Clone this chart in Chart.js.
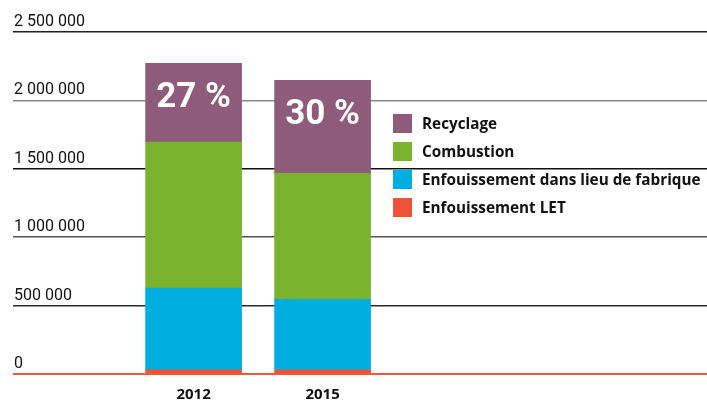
<!DOCTYPE html>
<html>
<head>
<meta charset="utf-8">
<script src="https://cdn.jsdelivr.net/npm/chart.js@4.4.1/dist/chart.umd.min.js"></script>
<style>
  html, body { margin: 0; padding: 0; background: #ffffff; }
  #wrap { position: relative; width: 707px; height: 401px; }
</style>
</head>
<body>
<div id="wrap"><canvas id="c" width="707" height="401"></canvas></div>
<script>
// ---- data ----
const categories = ['2012', '2015'];
const seriesNames = ['Enfouissement LET', 'Enfouissement dans lieu de fabrique', 'Combustion', 'Recyclage'];
const enfouissementLET = [30000, 30000];
const enfouissementLieu = [598000, 515000];
const combustion = [1068000, 921000];
const recyclage = [575000, 681000];
const recyclagePct = ['27 %', '30 %'];
const yTicks = [0, 500000, 1000000, 1500000, 2000000, 2500000];

const colors = ['#ee5237', '#00aedf', '#7ab32d', '#8e5b7a'];
const seriesValues = [enfouissementLET, enfouissementLieu, combustion, recyclage];

const FONT = 'Roboto, "DejaVu Sans", sans-serif';
const FONT_B = '"Open Sans", Roboto, sans-serif';

function fmt(v) {
  return String(v).replace(/\B(?=(\d{3})+(?!\d))/g, ' ');
}

const datasets = seriesValues.map((vals, si) => ({
  label: seriesNames[si],
  data: vals.map((v, i) => ({ x: i, y: v })),
  backgroundColor: colors[si],
  borderWidth: 0,
  barThickness: 96
}));

const pctPlugin = {
  id: 'pctLabels',
  afterDatasetsDraw(chart) {
    const ctx = chart.ctx;
    const meta = chart.getDatasetMeta(3);
    ctx.save();
    ctx.fillStyle = '#ffffff';
    ctx.font = 'bold 35px ' + FONT;
    ctx.textAlign = 'center';
    ctx.textBaseline = 'middle';
    meta.data.forEach((bar, i) => {
      ctx.fillText(recyclagePct[i], bar.x, bar.y + 35);
    });
    ctx.restore();
  }
};

const legendPlugin = {
  id: 'customLegend',
  afterDraw(chart) {
    const ctx = chart.ctx;
    ctx.save();
    ctx.font = 'bold 15.3px ' + FONT_B;
    ctx.textAlign = 'left';
    ctx.textBaseline = 'middle';
    const order = [3, 2, 1, 0];
    order.forEach((si, row) => {
      const cy = 123.5 + row * 28;
      ctx.fillStyle = colors[si];
      ctx.fillRect(393, cy - 9.5, 19, 19);
      ctx.fillStyle = '#111111';
      ctx.fillText(seriesNames[si], 422, cy + 1);
    });
    ctx.restore();
  }
};

const gridColors = ['#f05a3c', '#2a2a2a', '#555555', '#111111', '#888888', '#222222'];

new Chart(document.getElementById('c'), {
  type: 'bar',
  data: { datasets },
  options: {
    responsive: false,
    animation: false,
    layout: { padding: { left: 11, right: 0, top: 32, bottom: -15 } },
    plugins: { legend: { display: false }, tooltip: { enabled: false } },
    scales: {
      x: {
        type: 'linear',
        stacked: true,
        min: -1.4,
        max: 3.98,
        offset: false,
        grid: { display: false, drawTicks: false },
        border: { display: false },
        afterBuildTicks(scale) {
          scale.ticks = categories.map((c, i) => ({ value: i }));
        },
        ticks: {
          autoSkip: false,
          maxRotation: 0,
          padding: 12,
          color: '#111111',
          font: { family: FONT_B, size: 15, weight: 'bold' },
          callback: (v) => categories[v] ?? ''
        }
      },
      y: {
        stacked: true,
        min: 0,
        max: 2500000,
        afterBuildTicks(scale) {
          scale.ticks = yTicks.map(v => ({ value: v }));
        },
        border: { display: false },
        grid: {
          drawTicks: false,
          color: (c) => gridColors[c.index] || '#333',
          lineWidth: (c) => c.index === 0 ? 2 : 1.5
        },
        ticks: {
          mirror: true,
          padding: 1,
          labelOffset: -10,
          color: '#111111',
          font: { family: FONT, size: 16 },
          callback: (v) => fmt(v)
        }
      }
    }
  },
  plugins: [pctPlugin, legendPlugin]
});
</script>
</body>
</html>
